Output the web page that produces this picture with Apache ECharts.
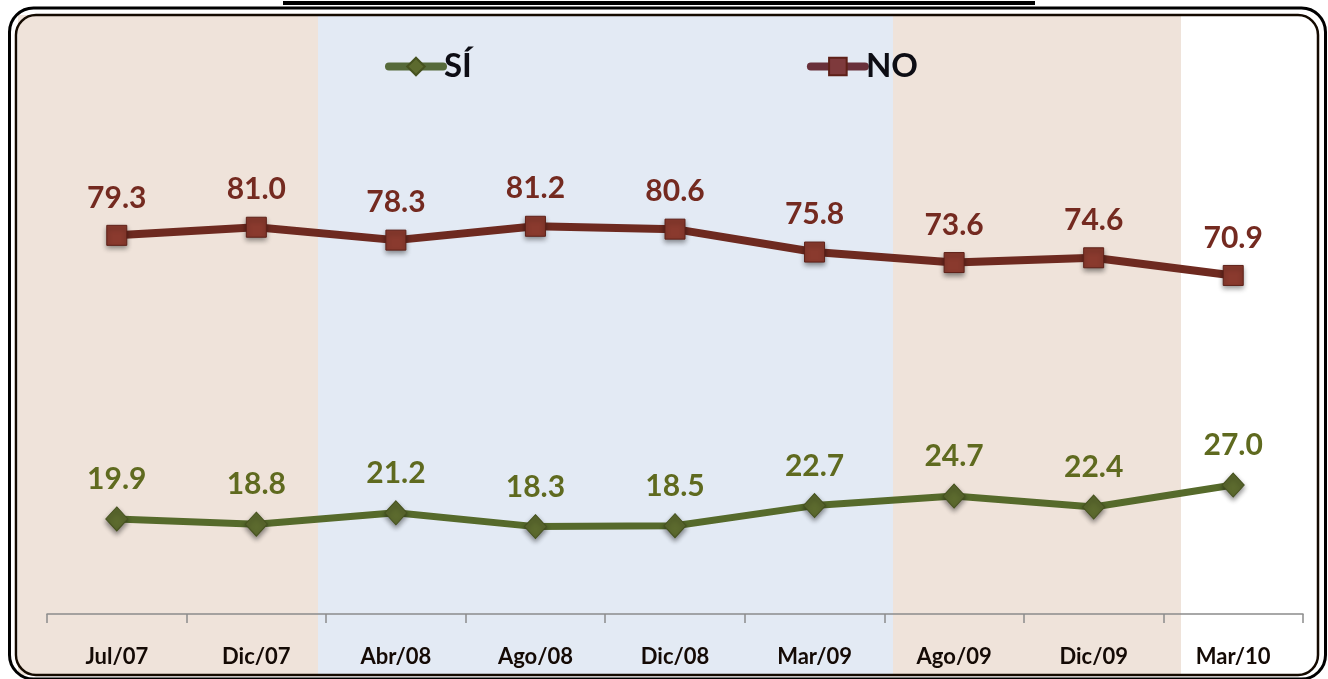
<!DOCTYPE html>
<html>
<head>
<meta charset="utf-8">
<script src="https://cdn.jsdelivr.net/npm/echarts@6/dist/echarts.min.js"></script>
<style>
  html, body { margin: 0; padding: 0; background: #fff; }
  #mainChart { width: 1328px; height: 679px; }
</style>
</head>
<body>
<div id="mainChart"></div>
<script>
// datos
const categories = ['Jul/07', 'Dic/07', 'Abr/08', 'Ago/08', 'Dic/08', 'Mar/09', 'Ago/09', 'Dic/09', 'Mar/10'];
const siValues = [19.9, 18.8, 21.2, 18.3, 18.5, 22.7, 24.7, 22.4, 27.0];
const noValues = [79.3, 81.0, 78.3, 81.2, 80.6, 75.8, 73.6, 74.6, 70.9];

const FONT = 'Lato, "Open Sans", sans-serif';
const chart = echarts.init(document.getElementById('mainChart'));

// fondo: franjas de color y marco redondeado
const decor = [
    { type: 'rect', z: -10, shape: { x: 18, y: 15, width: 300, height: 660 }, style: { fill: '#efe3da' } },
    { type: 'rect', z: -10, shape: { x: 318, y: 15, width: 575, height: 660 }, style: { fill: '#e3eaf4' } },
    { type: 'rect', z: -10, shape: { x: 893, y: 15, width: 288, height: 660 }, style: { fill: '#efe3da' } },
    { type: 'rect', z: 10, shape: { x: 283, y: 1, width: 752, height: 4 }, style: { fill: '#000' } },
    { type: 'rect', z: 10, shape: { x: 9.5, y: 8, width: 1316, height: 671, r: 24 }, style: { fill: 'none', stroke: '#000', lineWidth: 3 } },
    { type: 'rect', z: 10, shape: { x: 16, y: 15, width: 1302, height: 660, r: 20 }, style: { fill: 'none', stroke: '#140a00', lineWidth: 2.5 } }
];

const option = {
    animation: false,
    backgroundColor: '#fff',
    graphic: decor,
    legend: {
        data: [
            { name: 'SÍ', itemStyle: { color: '#5c6a2e' }, lineStyle: { color: '#566a3a', width: 8, cap: 'round' } },
            { name: 'NO', itemStyle: { color: '#7e3a3c' }, lineStyle: { color: '#69303a', width: 8, cap: 'round' } }
        ],
        left: 380,
        top: 45,
        itemWidth: 54,
        itemHeight: 22,
        itemGap: 335,
        textStyle: { fontFamily: FONT, fontWeight: 'bold', fontSize: 33, color: '#0d0d14', padding: [0, 0, 0, -4] }
    },
    grid: { left: 47, right: 25, top: 41, bottom: 65 },
    xAxis: {
        type: 'category',
        data: categories,
        boundaryGap: true,
        axisLine: { lineStyle: { color: '#8c8c8c', width: 1.5 } },
        axisTick: { show: true, length: 9, lineStyle: { color: '#8c8c8c', width: 1.5 } },
        axisLabel: { margin: 32, fontFamily: FONT, fontWeight: 'bold', fontSize: 22, color: '#140a05' }
    },
    yAxis: {
        type: 'value',
        min: 0,
        max: 120,
        show: false,
        splitLine: { show: false }
    },
    series: [
        {
            name: 'SÍ',
            type: 'line',
            data: siValues,
            symbol: 'diamond',
            symbolSize: [22, 24],
            lineStyle: { color: '#566a2b', width: 7 },
            itemStyle: { color: '#5c6a2e', borderColor: '#46521f', borderWidth: 1, shadowBlur: 5, shadowColor: 'rgba(0,0,0,0.45)', shadowOffsetY: 3 },
            label: {
                show: true,
                position: 'top',
                distance: 12,
                formatter: p => p.value.toFixed(1),
                fontFamily: FONT, fontWeight: 'bold', fontSize: 30, color: '#5f6a1f'
            },
            z: 3
        },
        {
            name: 'NO',
            type: 'line',
            data: noValues,
            symbol: 'rect',
            symbolSize: 20,
            lineStyle: { color: '#6e2a20', width: 8 },
            itemStyle: { color: '#8a3a2e', borderColor: '#5e2018', borderWidth: 1, shadowBlur: 5, shadowColor: 'rgba(0,0,0,0.45)', shadowOffsetY: 3 },
            label: {
                show: true,
                position: 'top',
                distance: 12,
                formatter: p => p.value.toFixed(1),
                fontFamily: FONT, fontWeight: 'bold', fontSize: 30, color: '#742a20'
            },
            z: 3
        }
    ]
};

chart.setOption(option);
</script>
</body>
</html>
